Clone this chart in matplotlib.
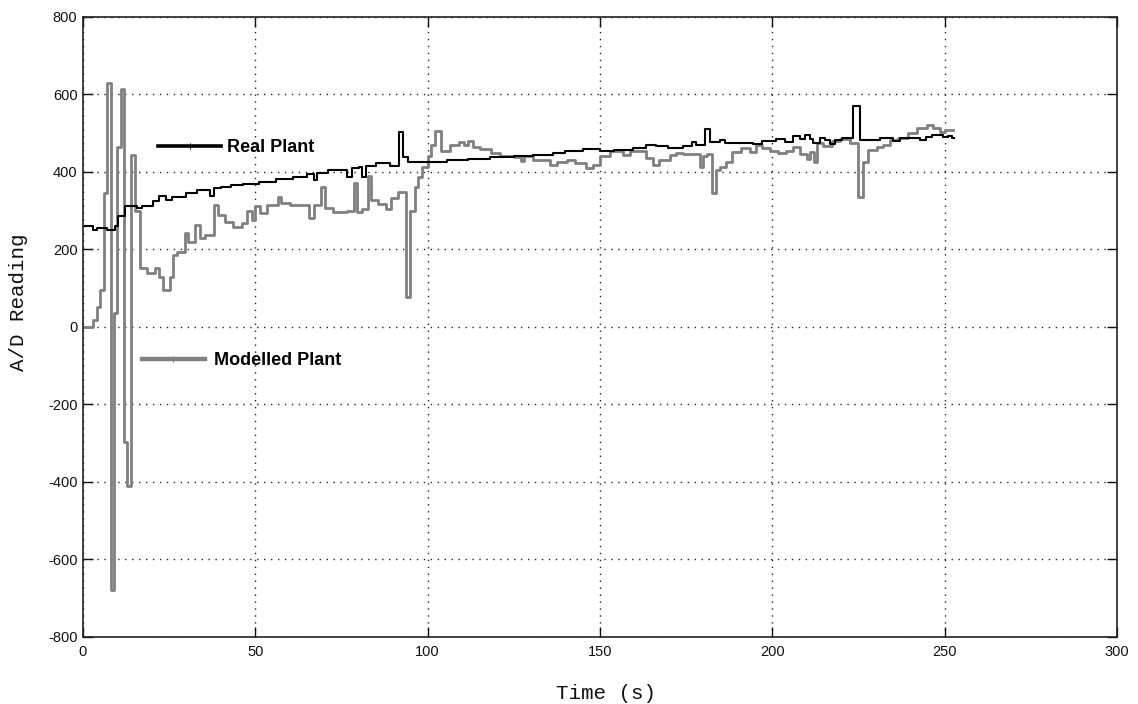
import numpy as np
import matplotlib.pyplot as plt
from matplotlib.lines import Line2D

# step start times (s) and A/D readings, each value held until the next time
t_real = [0.5, 3, 4, 7, 9.3, 10.2, 12.2, 15.6, 17, 20.4, 22, 24, 25.7, 30, 33, 37, 38,
          40, 43, 46.5, 51, 56, 61, 65, 67, 68, 71, 76.5, 78, 80, 81, 82, 85, 89, 91.8,
          93, 94.4, 100, 105.5, 111.8, 118, 125, 130.6, 136.4, 140, 145, 150, 154,
          159.7, 163.5, 166.4, 169.8, 174.2, 176.6, 178, 180.5, 181.9, 184.8, 186.3,
          190.1, 194.5, 196.9, 201.2, 203.7, 206.1, 208, 209.5, 210.9, 211.9, 213.8,
          215.3, 216.7, 218.2, 220.1, 223.5, 225.4, 231.2, 235.1, 237, 242.8, 244.5,
          246.2, 249.6, 251, 252]
v_real = [261, 250, 255, 250, 261, 286, 312, 306, 311, 325, 337, 328, 336, 347, 354, 339,
          358, 362, 366, 369, 373, 381, 388, 394, 379, 397, 405, 388, 410, 414, 386, 415,
          424, 415, 504, 438, 427, 427, 431, 434, 438, 441, 444, 450, 455, 458, 455, 457,
          463, 469, 467, 463, 467, 478, 470, 510, 478, 482, 474, 476, 471, 480, 484, 478,
          493, 484, 495, 484, 476, 487, 482, 472, 482, 487, 570, 482, 487, 481, 487, 482,
          489, 495, 489, 494, 487]
t_real_end = 252.7

t_model = [0.5, 3, 4, 5, 6, 7, 8, 9, 10, 11, 12, 12.7, 14, 15, 16.5, 18.5, 21, 22, 23.3,
           25.2, 26.2, 27.2, 29.6, 30.6, 32.5, 34, 35.4, 38, 39.3, 41.2, 43.6, 46, 47.5,
           49, 50, 51.4, 53.3, 56.7, 57.6, 60, 65.5, 67, 69.2, 70.2, 72.6, 76.5, 78.6,
           79.6, 81, 82.8, 83.7, 85.5, 88, 89.5, 91.3, 93.6, 94.9, 96.2, 97.3, 98.5, 100,
           101, 102, 104, 106.5, 109, 110.5, 111.8, 113.2, 115.2, 118.5, 121, 125, 127,
           128, 130.6, 135.5, 137.4, 140.3, 142.7, 146, 148, 150, 153, 156.8, 158.7,
           163.5, 165.5, 167, 170.3, 172.2, 174.2, 179, 180, 181, 182.4, 183.8, 184.8,
           186.7, 188.2, 191, 193.5, 195.4, 196.9, 199.3, 201.7, 204.1, 206.1, 208, 210,
           211, 212, 213, 214.8, 217.2, 219.6, 222.5, 225, 226.4, 227.8, 230.3, 232.2,
           234.1, 236.5, 239.4, 241.9, 244.8, 246.7, 248.6, 250.1]
v_model = [0, 18, 51, 96, 345, 630, -680, 35, 465, 615, -297, -410, 445, 298, 151, 139,
           151, 130, 96, 130, 186, 194, 243, 220, 263, 229, 237, 315, 289, 272, 259, 268,
           298, 276, 311, 293, 315, 336, 319, 315, 282, 315, 362, 308, 296, 300, 371, 296,
           305, 390, 328, 318, 305, 334, 349, 77, 298, 362, 388, 412, 440, 470, 507, 455,
           470, 478, 470, 480, 465, 458, 450, 441, 438, 428, 440, 431, 418, 427, 431, 422,
           410, 418, 440, 455, 444, 453, 435, 418, 431, 444, 450, 446, 412, 440, 446, 345,
           405, 412, 427, 452, 461, 452, 470, 461, 455, 448, 455, 465, 446, 433, 452, 427,
           474, 467, 480, 484, 474, 336, 427, 457, 465, 470, 482, 487, 501, 513, 521, 513,
           504, 508]
t_model_end = 252.5

x_ticks = [0, 50, 100, 150, 200, 250, 300]
y_ticks = [-800, -600, -400, -200, 0, 200, 400, 600, 800]

plt.rcParams['font.family'] = ['Liberation Sans', 'DejaVu Sans']
plt.rcParams['axes.unicode_minus'] = False

fig = plt.figure(figsize=(11.38, 7.04), dpi=100)
ax = fig.add_axes([0.0729, 0.0952, 0.9086, 0.8807])

BLACK = '#000000'
GREY = '#808080'

ax.step(np.append(t_model, t_model_end), np.append(v_model, v_model[-1]),
        where='post', color=GREY, lw=2.0, zorder=3)
ax.step(np.append(t_real, t_real_end), np.append(v_real, v_real[-1]),
        where='post', color=BLACK, lw=1.5, zorder=4)

ax.set_xlim(0, 300)
ax.set_ylim(-800, 800)
ax.set_xticks(x_ticks)
ax.set_yticks(y_ticks)
ax.tick_params(direction='in', length=7, width=1, top=True, right=True,
               labelsize=10.5, colors='#111111')
ax.tick_params(axis='x', pad=6)
ax.tick_params(axis='y', pad=4)
for s in ax.spines.values():
    s.set_linewidth(1.2)
    s.set_color('#222222')

ax.grid(True, color='#222222', lw=1.0, linestyle=(0, (1, 4)))
ax.set_axisbelow(True)

# two separate legend entries, as labelled in the plot area
h_real = Line2D([], [], color=BLACK, lw=2.6, marker='|', markersize=4, mew=0.8)
h_model = Line2D([], [], color=GREY, lw=3.2, marker='|', markersize=4, mew=0.8)
leg_kw = dict(frameon=False, borderpad=0, borderaxespad=0, handlelength=3.5,
              loc='center left', prop=dict(size=13, weight='bold'))
leg1 = ax.legend([h_real], ['Real Plant'], bbox_to_anchor=(0.0725, 0.789),
                 handletextpad=0.35, **leg_kw)
ax.add_artist(leg1)
ax.legend([h_model], ['Modelled Plant'], bbox_to_anchor=(0.0568, 0.4456),
          handletextpad=0.5, **leg_kw)

fig.text(0.5325, 0.0156, 'Time (s)', family='Liberation Mono', fontsize=15,
         ha='center', va='center', color='#111111')
fig.text(0.016, 0.571, 'A/D Reading', family='Liberation Mono', fontsize=15,
         rotation=90, ha='center', va='center', color='#111111')

fig.savefig('out.png', dpi=100)
